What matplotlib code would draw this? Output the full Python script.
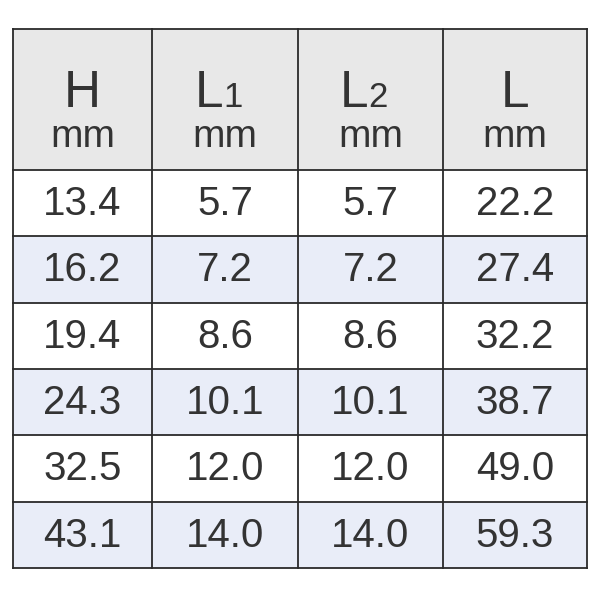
import matplotlib.pyplot as plt
from matplotlib.patches import Rectangle

plt.rcParams['font.family'] = ['Liberation Sans', 'DejaVu Sans']

# table data
headers = ["H", "L", "L", "L"]
subscripts = ["", "1", "2", ""]
units = ["mm", "mm", "mm", "mm"]
col_H = ["13.4", "16.2", "19.4", "24.3", "32.5", "43.1"]
col_L1 = ["5.7", "7.2", "8.6", "10.1", "12.0", "14.0"]
col_L2 = ["5.7", "7.2", "8.6", "10.1", "12.0", "14.0"]
col_L = ["22.2", "27.4", "32.2", "38.7", "49.0", "59.3"]
columns = [col_H, col_L1, col_L2, col_L]

# layout in pixels
col_edges = [13, 152, 298, 443, 587]
top, header_bottom, row_h = 29, 170, 66.3

fig = plt.figure(figsize=(6, 6), dpi=100)
ax = fig.add_axes([0, 0, 1, 1])
ax.set_xlim(0, 600)
ax.set_ylim(600, 0)
ax.axis("off")

text_color = "#333333"
line_color = "#2a2a2a"

# header
ax.add_patch(Rectangle((col_edges[0], top), col_edges[-1] - col_edges[0],
                       header_bottom - top, facecolor="#e8e8e8", edgecolor="none"))
for i in range(len(columns)):
    xc = (col_edges[i] + col_edges[i + 1]) / 2
    if subscripts[i]:
        ax.text(xc - 2, 107, headers[i], ha="right", va="baseline",
                fontsize=37, color=text_color)
        ax.text(xc - 2, 107, subscripts[i], ha="left", va="baseline",
                fontsize=25, color=text_color)
    else:
        ax.text(xc, 107, headers[i], ha="center", va="baseline",
                fontsize=37, color=text_color)
    ax.text(xc, 147, units[i], ha="center", va="baseline",
            fontsize=28, color=text_color)

# body rows
n_rows = len(col_H)
for r in range(n_rows):
    y0 = header_bottom + r * row_h
    fc = "#e9edf8" if r % 2 == 1 else "white"
    ax.add_patch(Rectangle((col_edges[0], y0), col_edges[-1] - col_edges[0],
                           row_h, facecolor=fc, edgecolor="none"))
    for i, col in enumerate(columns):
        xc = (col_edges[i] + col_edges[i + 1]) / 2
        ax.text(xc, y0 + row_h / 2 + 1, col[r], ha="center", va="center",
                fontsize=29, color=text_color)

# grid lines
bottom = header_bottom + n_rows * row_h
for x in col_edges:
    ax.plot([x, x], [top, bottom], color=line_color, lw=1.3)
ax.plot([col_edges[0], col_edges[-1]], [top, top], color=line_color, lw=1.3)
ax.plot([col_edges[0], col_edges[-1]], [header_bottom, header_bottom], color=line_color, lw=1.3)
for r in range(1, n_rows + 1):
    y = header_bottom + r * row_h
    ax.plot([col_edges[0], col_edges[-1]], [y, y], color=line_color, lw=1.3)

fig.savefig("out.png", dpi=100)
